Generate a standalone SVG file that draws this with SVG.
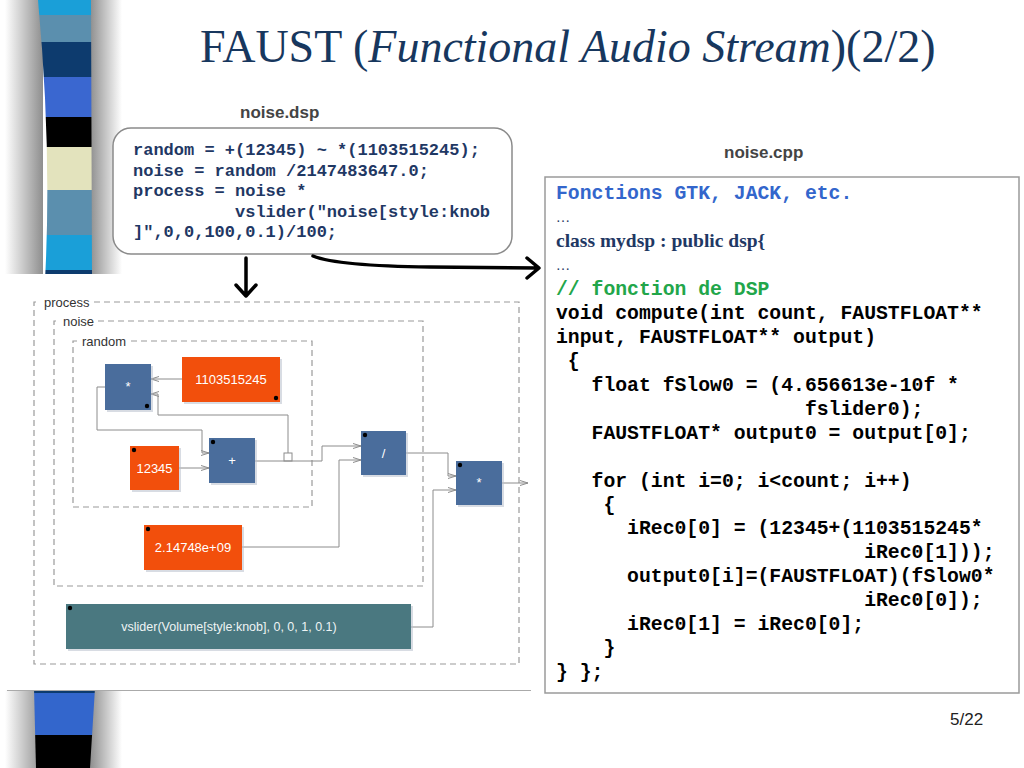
<svg xmlns="http://www.w3.org/2000/svg" width="1024" height="768" viewBox="0 0 1024 768">
<defs>
<style>
.title{font-family:"Liberation Serif","Times New Roman",serif;font-size:46px;fill:#17375e}
.lbl{font-family:"Liberation Sans",Arial,sans-serif;font-weight:bold;font-size:17px;fill:#444}
.m1{font-family:"Liberation Mono","Courier New",monospace;font-weight:bold;font-size:17px;fill:#1f3864;white-space:pre}
.m2{font-family:"Liberation Mono","Courier New",monospace;font-weight:bold;font-size:19.75px;fill:#000;white-space:pre}
.serif{font-family:"Liberation Serif","Times New Roman",serif;font-weight:bold;font-size:19.5px;fill:#1f3864}
.dots{font-family:"Liberation Serif","Times New Roman",serif;font-size:14px;fill:#1f3864}
.grp{font-family:"Liberation Sans",Arial,sans-serif;font-size:13px;fill:#333}
.dash{fill:none;stroke:#9a9a9a;stroke-width:1.2;stroke-dasharray:6 4}
.blue{fill:#4a6d9c}
.org{fill:#f24f0c}
.teal{fill:#4a7880}
.shd{fill:#b8c0cc;opacity:0.55}
.btxt{font-family:"Liberation Sans",Arial,sans-serif;font-size:13px;fill:#fff;text-anchor:middle}
.dot{fill:#000}
.conn{fill:none;stroke:#8c8c8c;stroke-width:1}
.big{fill:none;stroke:#000;stroke-width:3.5;stroke-linecap:round;stroke-linejoin:round}
</style>
<marker id="ah" viewBox="0 0 8 6" refX="8" refY="3" markerWidth="8" markerHeight="6" orient="auto" markerUnits="userSpaceOnUse">
<path d="M0,0.5 L8,3 L0,5.5" fill="none" stroke="#8c8c8c" stroke-width="1"/>
</marker>
<linearGradient id="shL" x1="0" y1="0" x2="1" y2="0">
<stop offset="0" stop-color="#fff"/>
<stop offset="1" stop-color="#8e8e8e"/>
</linearGradient>
<linearGradient id="shR" x1="0" y1="0" x2="1" y2="0">
<stop offset="0" stop-color="#8e8e8e"/>
<stop offset="1" stop-color="#fff"/>
</linearGradient>
<clipPath id="stripeTop">
<path d="M38,0 L91,0 L92,280 L45,280 Q52,150 38,0 Z"/>
</clipPath>
<clipPath id="stripeBot">
<path d="M34,688 L95,688 L90,768 L36,768 Z"/>
</clipPath>
</defs>
<rect width="1024" height="768" fill="#fff"/>

<g id="stripe">
<rect x="5" y="0" width="38" height="768" fill="url(#shL)"/>
<rect x="90" y="0" width="32" height="768" fill="url(#shR)"/>
<g clip-path="url(#stripeTop)">
<rect x="30" y="0" width="70" height="15" fill="#1a9fd8"/>
<rect x="30" y="15" width="70" height="27" fill="#5b8fae"/>
<rect x="30" y="42" width="70" height="35" fill="#0d3b6e"/>
<rect x="30" y="77" width="70" height="40" fill="#3a67d0"/>
<rect x="30" y="117" width="70" height="30" fill="#000"/>
<rect x="30" y="147" width="70" height="43" fill="#e3e3bd"/>
<rect x="30" y="190" width="70" height="45" fill="#5b8fae"/>
<rect x="30" y="235" width="70" height="35" fill="#1a9fd8"/>
<rect x="30" y="270" width="70" height="10" fill="#0d3b6e"/>
</g>
<g clip-path="url(#stripeBot)">
<rect x="30" y="688" width="70" height="5" fill="#0d3b6e"/>
<rect x="30" y="693" width="70" height="42" fill="#3366cc"/>
<rect x="30" y="735" width="70" height="33" fill="#000"/>
</g>
</g>

<g id="title">
<text x="200" y="62" class="title">FAUST (<tspan font-style="italic">Functional Audio Stream</tspan>)(2/2)</text>
</g>

<g id="noise-dsp">
<text x="240" y="118" class="lbl">noise.dsp</text>
<rect x="113" y="128" width="399" height="126" rx="18" fill="#fff" stroke="#8a8a8a" stroke-width="1.5"/>
<text class="m1" xml:space="preserve"><tspan x="133" y="155">random = +(12345) ~ *(1103515245);</tspan><tspan x="133" y="175.5">noise = random /2147483647.0;</tspan><tspan x="133" y="196">process = noise *</tspan><tspan x="133" y="216.5">          vslider("noise[style:knob</tspan><tspan x="133" y="237">]",0,0,100,0.1)/100;</tspan></text>
</g>

<g id="noise-cpp">
<text x="724" y="158" class="lbl">noise.cpp</text>
<rect x="545" y="177" width="474" height="516" fill="#fff" stroke="#9a9a9a" stroke-width="1.5"/>
<text x="556" y="199" class="m2" style="fill:#3366cc">Fonctions GTK, JACK, etc.</text>
<text x="556" y="222" class="dots">…</text>
<text x="556" y="247" class="serif">class mydsp : public dsp{</text>
<text x="556" y="270" class="dots">…</text>
<text x="556" y="295" class="m2" style="fill:#22a64a">// fonction de DSP</text>
<text class="m2" xml:space="preserve"><tspan x="556" y="319">void compute(int count, FAUSTFLOAT**</tspan><tspan x="556" y="343">input, FAUSTFLOAT** output)</tspan><tspan x="556" y="367"> {</tspan><tspan x="556" y="391">   float fSlow0 = (4.656613e-10f *</tspan><tspan x="556" y="415">                     fslider0);</tspan><tspan x="556" y="439">   FAUSTFLOAT* output0 = output[0];</tspan><tspan x="556" y="486.5">   for (int i=0; i&lt;count; i++)</tspan><tspan x="556" y="510.5">    {</tspan><tspan x="556" y="534">      iRec0[0] = (12345+(1103515245*</tspan><tspan x="556" y="558">                          iRec0[1]));</tspan><tspan x="556" y="582">      output0[i]=(FAUSTFLOAT)(fSlow0*</tspan><tspan x="556" y="606">                          iRec0[0]);</tspan><tspan x="556" y="629.5">      iRec0[1] = iRec0[0];</tspan><tspan x="556" y="653.5">    }</tspan><tspan x="556" y="677.5">} };</tspan></text>
</g>

<g id="diagram-bg">
<rect x="4" y="274" width="527" height="416" fill="#fff"/>
<line x1="7" y1="690.5" x2="531" y2="690.5" stroke="#aaa" stroke-width="1"/>
</g>

<g id="big-arrows">
<path class="big" d="M246,258 V296 M236,285 L246,296 L256,285"/>
<path class="big" d="M313,256 Q338,266 430,267 L538,268 M527,258 L539,268 L527,278"/>
</g>

<g id="grp-process">
<path class="dash" d="M94,302 H519 V664 H34 V302 H40"/>
<text x="44" y="306.5" class="grp">process</text>
</g>
<g id="grp-noise">
<path class="dash" d="M98,321 H423 V586 H54 V321 H59"/>
<text x="63" y="325.5" class="grp">noise</text>
</g>
<g id="grp-random">
<path class="dash" d="M131,341 H312 V507 H73 V341 H78"/>
<text x="82" y="345.5" class="grp">random</text>
</g>

<g id="connectors">
<path class="conn" d="M182,379 H151" marker-end="url(#ah)"/>
<path class="conn" d="M288,453 V415 H158 V394 H151" marker-end="url(#ah)"/>
<rect x="284" y="453" width="8" height="8" fill="#fff" stroke="#8c8c8c" stroke-width="1"/>
<path class="conn" d="M105,387 H97 V430 H202 V453 H209" marker-end="url(#ah)"/>
<path class="conn" d="M179,468 H209" marker-end="url(#ah)"/>
<path class="conn" d="M255,461 H322 V446 H361" marker-end="url(#ah)"/>
<path class="conn" d="M242,547 H339 V460 H361" marker-end="url(#ah)"/>
<path class="conn" d="M406,453 H448 V476 H456" marker-end="url(#ah)"/>
<path class="conn" d="M411,627 H433 V490 H456" marker-end="url(#ah)"/>
<path class="conn" d="M502,483 H528" marker-end="url(#ah)"/>
</g>

<g id="node-mul1">
<rect x="107" y="366" width="46" height="46" class="shd"/>
<rect x="105" y="364" width="46" height="46" class="blue"/>
<text x="128" y="391" class="btxt">*</text>
<circle cx="147" cy="406" r="2.2" class="dot"/>
</g>
<g id="node-c1103515245">
<rect x="184" y="359" width="98" height="45" class="shd"/>
<rect x="182" y="357" width="98" height="45" class="org"/>
<text x="231" y="384" class="btxt">1103515245</text>
<circle cx="276" cy="398" r="2.2" class="dot"/>
</g>
<g id="node-c12345">
<rect x="132" y="448" width="49" height="44" class="shd"/>
<rect x="130" y="446" width="49" height="44" class="org"/>
<text x="154.5" y="473" class="btxt">12345</text>
<circle cx="134" cy="450" r="2.2" class="dot"/>
</g>
<g id="node-add">
<rect x="211" y="440" width="46" height="45" class="shd"/>
<rect x="209" y="438" width="46" height="45" class="blue"/>
<text x="232" y="465" class="btxt">+</text>
<circle cx="213" cy="442" r="2.2" class="dot"/>
</g>
<g id="node-div">
<rect x="363" y="433" width="45" height="44" class="shd"/>
<rect x="361" y="431" width="45" height="44" class="blue"/>
<text x="383.5" y="458" class="btxt">/</text>
<circle cx="365" cy="435" r="2.2" class="dot"/>
</g>
<g id="node-c2147">
<rect x="146" y="527" width="98" height="45" class="shd"/>
<rect x="144" y="525" width="98" height="45" class="org"/>
<text x="193" y="552" class="btxt">2.14748e+09</text>
<circle cx="148" cy="529" r="2.2" class="dot"/>
</g>
<g id="node-mul2">
<rect x="458" y="463" width="46" height="44" class="shd"/>
<rect x="456" y="461" width="46" height="44" class="blue"/>
<text x="479" y="487" class="btxt">*</text>
<circle cx="460" cy="465" r="2.2" class="dot"/>
</g>
<g id="node-vslider">
<rect x="68" y="606" width="345" height="45" class="shd"/>
<rect x="66" y="604" width="345" height="45" class="teal"/>
<text x="229" y="631" class="btxt" style="font-size:12.5px;fill:#eef4f4">vslider(Volume[style:knob], 0, 0, 1, 0.1)</text>
<circle cx="70" cy="608" r="2.2" class="dot"/>
</g>

<g id="page">
<text x="950" y="725" style="font-family:'Liberation Sans',Arial,sans-serif;font-size:17px;fill:#222">5/22</text>
</g>
</svg>
